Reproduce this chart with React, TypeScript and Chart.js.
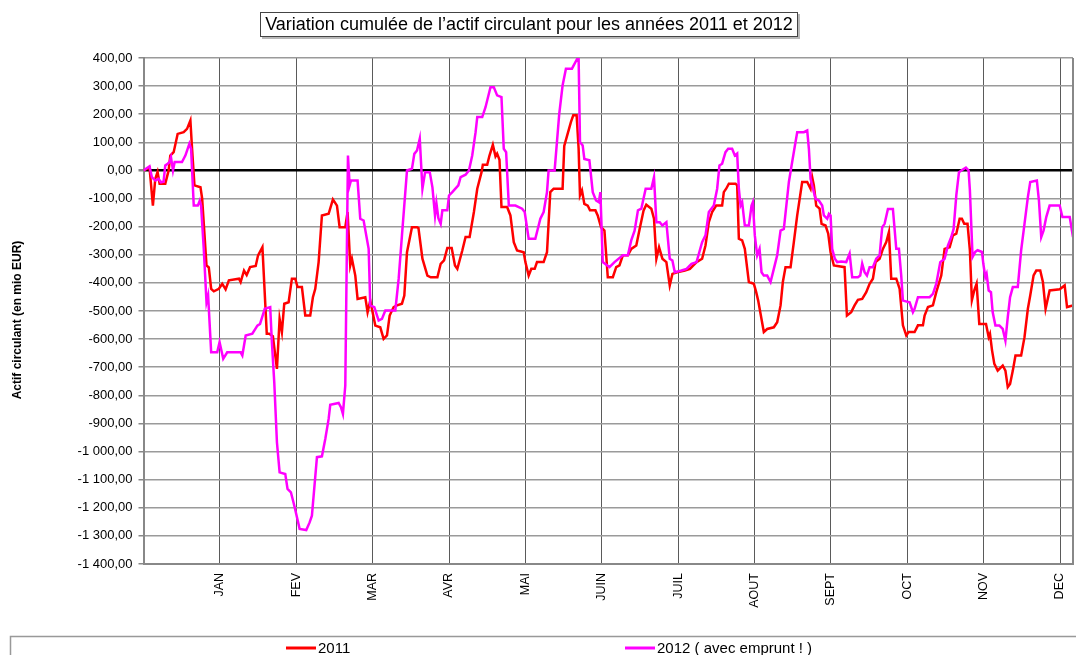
import React, { useEffect, useRef } from "react";
import { Chart, registerables } from "chart.js";

Chart.register(...registerables);

const monthLabels = ["JAN", "FEV", "MAR", "AVR", "MAI", "JUIN", "JUIL", "AOUT", "SEPT", "OCT", "NOV", "DEC"];
const monthTicks = [1, 2, 3, 4, 5, 6, 7, 8, 9, 10, 11, 12];
const yTickValues = [400, 300, 200, 100, 0, -100, -200, -300, -400, -500, -600, -700, -800, -900, -1000, -1100, -1200, -1300, -1400];

const titleText = "Variation cumulée de l’actif circulant pour les années 2011 et 2012";
const yAxisTitle = "Actif circulant (en mio EUR)";
const seriesNames = ["2011", "2012 ( avec emprunt ! )"];

// time position (in months from start of year) and cumulated variation, 2011
const t2011 = [
  0, 0.079, 0.123, 0.154, 0.184, 0.211, 0.285, 0.329, 0.351, 0.395, 0.447, 0.526, 0.57, 0.614, 0.636, 0.667, 0.746, 0.768, 0.825, 0.855,
  0.886, 0.921, 0.987, 1.031, 1.075, 1.118, 1.25, 1.272, 1.316, 1.351, 1.395, 1.469, 1.5, 1.557, 1.614, 1.645, 1.694, 1.747, 1.782, 1.812,
  1.843, 1.9, 1.943, 1.987, 2.017, 2.074, 2.118, 2.183, 2.218, 2.249, 2.293, 2.336, 2.424, 2.48, 2.533, 2.568, 2.642, 2.672, 2.707, 2.729,
  2.773, 2.803, 2.904, 2.934, 2.969, 3.035, 3.1, 3.144, 3.188, 3.223, 3.275, 3.319, 3.384, 3.415, 3.45, 3.515, 3.581, 3.6, 3.652, 3.717,
  3.761, 3.848, 3.891, 3.935, 3.978, 4.035, 4.078, 4.109, 4.174, 4.217, 4.27, 4.326, 4.37, 4.426, 4.443, 4.5, 4.53, 4.574, 4.609, 4.63,
  4.661, 4.687, 4.761, 4.804, 4.848, 4.891, 4.978, 5.0, 5.043, 5.078, 5.122, 5.152, 5.239, 5.283, 5.326, 5.37, 5.487, 5.509, 5.553, 5.596,
  5.627, 5.671, 5.697, 5.715, 5.741, 5.772, 5.816, 5.846, 5.917, 5.947, 5.991, 6.035, 6.079, 6.145, 6.189, 6.232, 6.276, 6.342, 6.386, 6.452,
  6.496, 6.548, 6.583, 6.649, 6.684, 6.715, 6.75, 6.794, 6.846, 6.89, 6.925, 6.987, 7.088, 7.154, 7.241, 7.314, 7.358, 7.402, 7.445, 7.498,
  7.576, 7.598, 7.629, 7.664, 7.751, 7.773, 7.795, 7.838, 7.873, 7.926, 7.991, 8.022, 8.048, 8.122, 8.166, 8.253, 8.297, 8.341, 8.371, 8.406,
  8.472, 8.515, 8.559, 8.624, 8.69, 8.734, 8.755, 8.777, 8.808, 8.852, 8.878, 8.93, 8.965, 8.996, 9.039, 9.179, 9.21, 9.266, 9.31, 9.354,
  9.41, 9.463, 9.507, 9.55, 9.585, 9.638, 9.681, 9.725, 9.76, 9.79, 9.856, 9.9, 9.943, 9.987, 10.017, 10.096, 10.14, 10.205, 10.227, 10.271,
  10.336, 10.38, 10.445, 10.489, 10.555, 10.598, 10.642, 10.686, 10.715, 10.746, 10.789, 10.82, 10.846, 10.877, 10.908, 10.943, 11.031, 11.066, 11.083, 11.11,
  11.14, 11.184, 11.25, 11.285, 11.316, 11.346, 11.382, 11.417, 11.491, 11.535, 11.579, 11.61, 11.654, 11.689, 11.741, 11.776, 11.811, 11.864, 11.996, 12.061,
  12.092, 12.17,
];
const v2011 = [
  0, 10, -125, -30, -5, -47, -47, 0, 53, 65, 130, 136, 148, 178, 77, -53, -60, -100, -338, -345,
  -421, -430, -421, -403, -423, -391, -385, -397, -356, -372, -344, -340, -302, -273, -581, -581, -590, -706, -528, -575,
  -474, -469, -385, -385, -415, -415, -516, -516, -451, -421, -326, -160, -154, -103, -125, -202, -202, -148, -338, -314,
  -374, -457, -451, -504, -463, -552, -558, -599, -587, -516, -486, -480, -474, -445, -291, -202, -202, -205, -314, -374,
  -380, -380, -332, -320, -276, -276, -338, -350, -285, -237, -237, -148, -65, -6, 20, 20, 53, 91, 50, 60,
  38, -130, -130, -160, -255, -285, -291, -326, -374, -350, -350, -326, -326, -291, -77, -65, -65, 87, 130, 172,
  196, 196, 77, -89, -71, -119, -125, -142, -142, -160, -202, -214, -380, -380, -344, -338, -302, -302, -279, -267,
  -208, -142, -122, -136, -172, -314, -273, -314, -326, -409, -368, -362, -356, -350, -326, -314, -267, -184, -148, -125,
  -125, -77, -65, -47, -47, -53, -243, -249, -279, -397, -403, -433, -463, -575, -564, -558, -540, -480, -397, -344,
  -344, -255, -160, -41, -41, -65, -24, -53, -125, -136, -190, -196, -225, -291, -338, -344, -516, -504, -480, -460,
  -457, -433, -403, -385, -326, -314, -279, -255, -219, -385, -385, -421, -551, -587, -575, -575, -551, -551, -516, -486,
  -480, -433, -374, -279, -273, -231, -225, -172, -172, -190, -190, -284, -462, -427, -403, -546, -546, -593, -581, -640,
  -688, -712, -694, -712, -771, -760, -712, -658, -658, -593, -492, -445, -373, -356, -356, -397, -492, -427, -423, -409,
  -486, -480,
];

// time position (in months from start of year) and cumulated variation, 2012
const t2012 = [
  0, 0.079, 0.11, 0.154, 0.197, 0.228, 0.263, 0.285, 0.316, 0.342, 0.36, 0.386, 0.408, 0.504, 0.548, 0.601, 0.623, 0.658, 0.711, 0.737,
  0.754, 0.789, 0.825, 0.846, 0.886, 0.965, 0.996, 1.044, 1.096, 1.272, 1.294, 1.338, 1.425, 1.491, 1.526, 1.588, 1.659, 1.681, 1.712, 1.747,
  1.782, 1.856, 1.886, 1.93, 1.974, 2.044, 2.131, 2.175, 2.205, 2.271, 2.336, 2.38, 2.424, 2.445, 2.555, 2.585, 2.611, 2.642, 2.677, 2.699,
  2.716, 2.803, 2.838, 2.882, 2.948, 2.969, 3.022, 3.079, 3.122, 3.166, 3.297, 3.341, 3.384, 3.45, 3.515, 3.546, 3.581, 3.617, 3.652, 3.687,
  3.748, 3.783, 3.817, 3.835, 3.861, 3.891, 3.913, 3.978, 4.0, 4.043, 4.122, 4.152, 4.217, 4.261, 4.304, 4.348, 4.37, 4.435, 4.478, 4.543,
  4.587, 4.63, 4.687, 4.717, 4.748, 4.783, 4.87, 4.957, 4.991, 5.043, 5.13, 5.196, 5.239, 5.283, 5.304, 5.383, 5.443, 5.487, 5.531, 5.61,
  5.684, 5.697, 5.715, 5.75, 5.772, 5.838, 5.882, 5.925, 5.961, 5.982, 6.013, 6.101, 6.167, 6.276, 6.342, 6.386, 6.43, 6.474, 6.518, 6.575,
  6.649, 6.684, 6.715, 6.759, 6.794, 6.846, 6.89, 6.925, 6.956, 7.044, 7.11, 7.175, 7.241, 7.314, 7.358, 7.402, 7.467, 7.511, 7.541, 7.576,
  7.62, 7.655, 7.707, 7.742, 7.773, 7.795, 7.817, 7.838, 7.873, 7.926, 7.961, 7.978, 8.004, 8.035, 8.066, 8.092, 8.122, 8.166, 8.21, 8.253,
  8.297, 8.341, 8.384, 8.45, 8.493, 8.537, 8.559, 8.646, 8.69, 8.712, 8.734, 8.755, 8.777, 8.799, 8.843, 8.886, 8.908, 8.952, 8.974, 8.996,
  9.017, 9.052, 9.083, 9.135, 9.201, 9.245, 9.279, 9.354, 9.384, 9.41, 9.441, 9.472, 9.507, 9.55, 9.594, 9.638, 9.672, 9.703, 9.747, 9.812,
  9.856, 9.891, 9.921, 9.943, 10.031, 10.074, 10.096, 10.14, 10.293, 10.336, 10.38, 10.432, 10.489, 10.533, 10.576, 10.607, 10.642, 10.677, 10.707, 10.768,
  10.803, 10.82, 10.855, 10.89, 10.921, 10.978, 10.996, 11.022, 11.039, 11.066, 11.096, 11.118, 11.154, 11.206, 11.25, 11.285, 11.316, 11.346, 11.382, 11.447,
  11.491, 11.535, 11.579, 11.61, 11.697, 11.724, 11.754, 11.785, 11.82, 11.864, 11.996, 12.031, 12.127, 12.149, 12.17,
];
const v2012 = [
  0, 15, -24, -36, -30, -42, -40, 18, 24, 30, 47, 0, 30, 30, 53, 95, 77, -125, -125, -107,
  -125, -279, -469, -445, -647, -647, -611, -670, -647, -647, -658, -587, -581, -552, -546, -492, -486, -611, -753, -967,
  -1074, -1080, -1133, -1145, -1192, -1275, -1279, -1252, -1228, -1020, -1017, -955, -884, -834, -827, -842, -866, -765, 53, -53,
  -36, -36, -172, -178, -279, -480, -486, -534, -528, -498, -498, -385, -231, 0, 6, 59, 71, 113, -65, -6,
  -6, -60, -160, -116, -170, -190, -142, -142, -89, -77, -53, -24, -15, 0, 53, 136, 190, 190, 225, 296,
  296, 267, 261, 77, 65, -125, -125, -136, -148, -243, -243, -172, -148, -77, 0, 0, 200, 302, 362, 362,
  400, 400, 101, 89, 41, 36, -77, -107, -113, -77, -326, -344, -326, -302, -302, -249, -214, -142, -136, -65,
  -65, -24, -184, -184, -196, -184, -314, -320, -362, -356, -350, -332, -326, -255, -231, -148, -125, -65, 18, 24,
  65, 77, 77, 53, 60, -65, -125, -113, -196, -196, -125, -113, -231, -302, -279, -362, -374, -374, -397, -350,
  -302, -214, -208, -41, 30, 101, 136, 136, 142, 77, -30, -53, -77, -101, -107, -125, -160, -172, -154, -160,
  -279, -314, -326, -324, -326, -296, -380, -380, -374, -332, -362, -374, -344, -344, -314, -302, -202, -190, -137, -137,
  -279, -279, -374, -463, -469, -504, -492, -451, -451, -439, -403, -326, -314, -267, -237, -208, -89, -6, 0, 10,
  0, -71, -308, -290, -284, -290, -332, -380, -368, -427, -433, -504, -552, -552, -564, -605, -522, -451, -415, -415,
  -284, -190, -95, -41, -36, -107, -237, -213, -166, -125, -125, -166, -166, -202, -237,
];

const FONT = "'Liberation Sans', Arial, sans-serif";

function formatFr(v: number): string {
  const s = Math.abs(v).toFixed(2);
  const [i, d] = s.split(".");
  const grouped = i.replace(/\B(?=(\d{3})+(?!\d))/g, " ");
  return (v < 0 ? "-" : "") + grouped + "," + d;
}

const decoPlugin = {
  id: "deco",
  afterDraw(chart: any) {
    const { ctx, chartArea: a } = chart;
    ctx.save();
    // right border of plot
    ctx.strokeStyle = "#888";
    ctx.lineWidth = 2;
    ctx.beginPath();
    ctx.moveTo(a.right, a.top);
    ctx.lineTo(a.right, a.bottom);
    ctx.stroke();

    // title box
    ctx.fillStyle = "#b8b8b8";
    ctx.fillRect(262, 14, 538, 25);
    ctx.fillStyle = "#fff";
    ctx.fillRect(260, 12, 538, 25);
    ctx.strokeStyle = "#444";
    ctx.lineWidth = 1;
    ctx.strokeRect(260.5, 12.5, 537, 24);
    ctx.fillStyle = "#000";
    ctx.font = `18px ${FONT}`;
    ctx.textAlign = "center";
    ctx.textBaseline = "middle";
    ctx.fillText(titleText, 529, 25);

    // y axis title
    ctx.save();
    ctx.translate(18, 320);
    ctx.rotate(-Math.PI / 2);
    ctx.font = `bold 12px ${FONT}`;
    ctx.textAlign = "center";
    ctx.textBaseline = "middle";
    ctx.fillText(yAxisTitle, 0, 0);
    ctx.restore();

    // legend box
    ctx.strokeStyle = "#999";
    ctx.lineWidth = 1.5;
    ctx.strokeRect(10.5, 636.5, 1080, 40);
    const items = [
      { x0: 286, x1: 316, color: "#ff0000", text: seriesNames[0] },
      { x0: 625, x1: 655, color: "#ff00ff", text: seriesNames[1] },
    ];
    ctx.font = `15px ${FONT}`;
    ctx.textAlign = "left";
    ctx.textBaseline = "alphabetic";
    for (const it of items) {
      ctx.strokeStyle = it.color;
      ctx.lineWidth = 3;
      ctx.beginPath();
      ctx.moveTo(it.x0, 648);
      ctx.lineTo(it.x1, 648);
      ctx.stroke();
      ctx.fillStyle = "#000";
      ctx.fillText(it.text, it.x1 + 2, 653);
    }
    ctx.restore();
  },
};

export default function App() {
  const canvasRef = useRef<HTMLCanvasElement | null>(null);

  useEffect(() => {
    if (!canvasRef.current) return;
    const chart = new Chart(canvasRef.current, {
      type: "line",
      data: {
        datasets: [
          {
            label: seriesNames[0],
            data: t2011.map((t, i) => ({ x: t, y: v2011[i] })),
            borderColor: "#ff0000",
            backgroundColor: "#ff0000",
            borderWidth: 2.5,
            pointRadius: 0,
            tension: 0,
            fill: false,
            order: 1,
          },
          {
            label: seriesNames[1],
            data: t2012.map((t, i) => ({ x: t, y: v2012[i] })),
            borderColor: "#ff00ff",
            backgroundColor: "#ff00ff",
            borderWidth: 2.5,
            pointRadius: 0,
            tension: 0,
            fill: false,
            order: 0,
          },
        ],
      },
      options: {
        animation: false,
        responsive: true,
        maintainAspectRatio: false,
        layout: { padding: { top: 58, right: 3, left: 0, bottom: 0 } },
        plugins: {
          legend: { display: false },
          title: { display: false },
          tooltip: { enabled: false },
        },
        scales: {
          x: {
            type: "linear",
            min: 0,
            max: 12.17,
            afterBuildTicks: (scale: any) => {
              scale.ticks = monthTicks.map((v) => ({ value: v }));
            },
            afterFit: (scale: any) => {
              scale.height = 91;
              scale.paddingLeft = 0;
              scale.paddingRight = 0;
            },
            ticks: {
              autoSkip: false,
              minRotation: 90,
              maxRotation: 90,
              padding: 9,
              color: "#000",
              font: { family: FONT, size: 12.5 },
              callback: (value: any) => monthLabels[Number(value) - 1] ?? "",
            },
            grid: { color: "#5a5a5a", lineWidth: 1, drawTicks: false },
            border: { display: true, color: "#888", width: 2 },
          },
          y: {
            type: "linear",
            min: -1400,
            max: 400,
            afterBuildTicks: (scale: any) => {
              scale.ticks = yTickValues.map((v) => ({ value: v }));
            },
            afterFit: (scale: any) => {
              scale.width = 143.5;
            },
            ticks: {
              padding: 6,
              color: "#000",
              font: { family: FONT, size: 13 },
              callback: (value: any) => formatFr(Number(value)),
            },
            grid: {
              color: (c: any) => (c.tick && c.tick.value === 0 ? "#000" : "#9a9a9a"),
              lineWidth: (c: any) => (c.tick && c.tick.value === 0 ? 2.5 : 1.5),
              tickColor: "#888",
              tickLength: 5,
            },
            border: { display: true, color: "#888", width: 2 },
          },
        },
      },
      plugins: [decoPlugin],
    });
    return () => chart.destroy();
  }, []);

  return (
    <div style={{ position: "absolute", left: 0, top: 0, width: 1076, height: 655, background: "#fff" }}>
      <canvas ref={canvasRef} />
    </div>
  );
}
